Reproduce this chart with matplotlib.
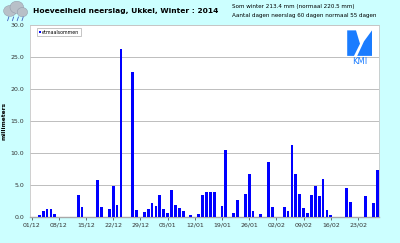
import matplotlib.pyplot as plt
from matplotlib.patches import Ellipse, Polygon

# dagen vanaf 01/12/2013 (0) tot 28/02/2014 (89)
rain_days = [2, 3, 4, 5, 6, 12, 13, 17, 18, 20, 21, 22, 23, 26, 27, 29, 30,
             31, 32, 33, 34, 35, 36, 37, 38, 39, 41, 43, 44, 45, 46, 47, 49, 50,
             52, 53, 55, 56, 57, 59, 61,
             62, 65, 66, 67, 68, 69, 70, 71, 72, 73, 74, 75, 76, 77, 81, 82, 86, 88, 89]
rain_mm = [0.4, 0.9, 1.3, 1.3, 0.5, 3.5, 1.6, 5.8, 1.6, 1.3, 4.8, 1.9, 26.3, 22.6, 1.2, 0.8, 1.3,
           2.2, 1.8, 3.5, 1.3, 0.7, 4.2, 1.9, 1.4, 0.9, 0.3, 0.5, 3.5, 3.9, 3.9, 4.0, 1.7, 10.5,
           0.6, 2.7, 3.6, 6.8, 0.9, 0.5, 8.7,
           1.6, 1.6, 0.9, 11.3, 6.8, 3.7, 1.4, 0.7, 3.4, 4.8, 3.3, 5.9, 1.2, 0.3, 4.5, 2.4, 3.3, 2.3, 7.4]
tick_days = [0, 7, 14, 21, 28, 35, 42, 49, 56, 63, 70, 77, 84]
tick_labels = ['01/12', '08/12', '15/12', '22/12', '29/12', '05/01', '12/01', '19/01',
               '26/01', '02/02', '09/02', '16/02', '23/02']
y_ticks = [0, 5, 10, 15, 20, 25, 30]

bg = '#ccffff'
fig = plt.figure(figsize=(4, 2.43), dpi=100, facecolor=bg)
ax = fig.add_axes([0.075, 0.106, 0.8725, 0.791])
ax.set_facecolor('white')

ax.bar(rain_days, rain_mm, width=0.72, color='#0000ff', label='etmaalsommen', zorder=3)
ax.set_xlim(-0.4, 89.4)
ax.set_ylim(0, 30)
ax.set_yticks(y_ticks)
ax.set_yticklabels(['%.1f' % v for v in y_ticks])
ax.set_xticks(tick_days)
ax.set_xticklabels(tick_labels)
ax.tick_params(axis='both', labelsize=4.5, colors='#333333', length=2, width=0.5, pad=1.5)
ax.tick_params(axis='y', length=0, pad=4)
ax.yaxis.grid(True, color='#bdbdbd', linewidth=0.7, zorder=1)
for s in ax.spines.values():
    s.set_color('#c8c8c8')
    s.set_linewidth(0.6)
ax.spines['bottom'].set_color('#a8a8a8')
ax.spines['bottom'].set_linewidth(1.0)
ax.set_ylabel('millimeters', fontsize=4.2, fontweight='bold', labelpad=3)

leg = ax.legend(loc='upper left', bbox_to_anchor=(0.02, 0.985), fontsize=3.4,
                frameon=True, fancybox=False, edgecolor='#999999',
                handlelength=0.5, handleheight=0.5, handletextpad=0.2,
                borderpad=0.35, borderaxespad=0)
leg.get_frame().set_linewidth(0.5)

fig.text(0.083, 0.955, 'Hoeveelheid neerslag, Ukkel, Winter : 2014', fontsize=5.4,
         fontweight='bold', va='center', ha='left')
fig.text(0.58, 0.975, 'Som winter 213.4 mm (normaal 220.5 mm)', fontsize=4.1,
         va='center', ha='left')
fig.text(0.58, 0.938, 'Aantal dagen neerslag 60 dagen normaal 55 dagen', fontsize=4.1,
         va='center', ha='left')

# wolkje linksboven
for cx, cy, w, h in [(0.025, 0.955, 0.032, 0.045), (0.042, 0.97, 0.034, 0.05), (0.056, 0.95, 0.026, 0.038)]:
    fig.patches.append(Ellipse((cx, cy), w, h, transform=fig.transFigure,
                               facecolor='#b8c0c8', edgecolor='#8890a0', linewidth=0.3))
for x0 in [0.022, 0.034, 0.046, 0.058]:
    fig.lines.append(plt.Line2D([x0, x0 - 0.003], [0.93, 0.915], transform=fig.transFigure,
                                color='#4060c0', linewidth=0.6))

# KMI logo
logo_blue = '#1a7cff'
fig.patches.append(Polygon([(0.868, 0.875), (0.89, 0.875), (0.9, 0.82), (0.885, 0.77), (0.868, 0.77)],
                           closed=True, transform=fig.transFigure, facecolor=logo_blue, edgecolor='none'))
fig.patches.append(Polygon([(0.93, 0.875), (0.93, 0.77), (0.893, 0.77), (0.91, 0.83)],
                           closed=True, transform=fig.transFigure, facecolor=logo_blue, edgecolor='none'))
fig.text(0.899, 0.748, 'KMI', fontsize=6, color=logo_blue, ha='center', va='center')

fig.savefig('out.png', dpi=100, facecolor=bg)
